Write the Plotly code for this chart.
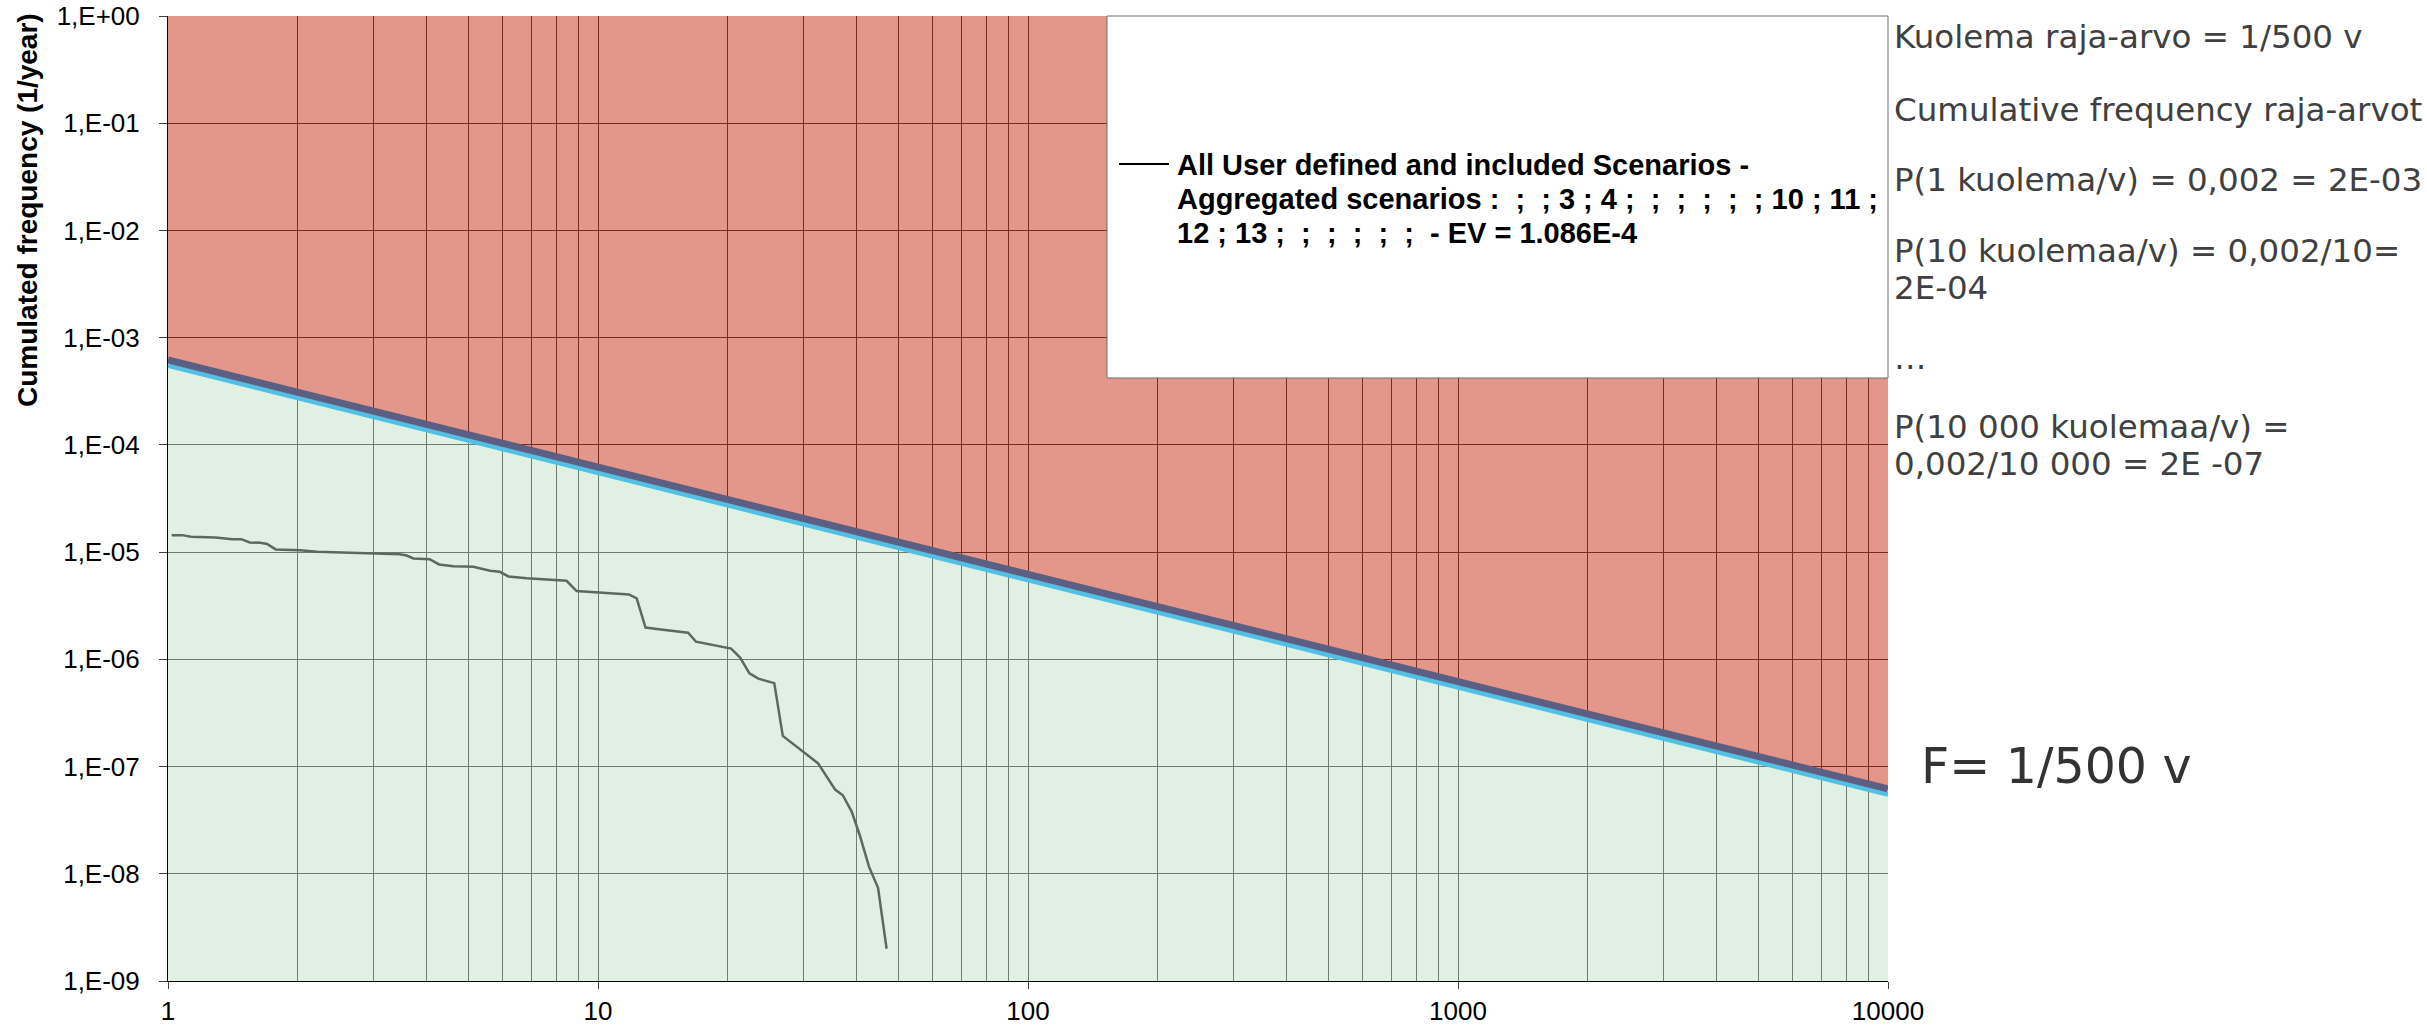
import plotly.graph_objects as go

# ---- data -------------------------------------------------------------
# F-N curve: number of fatalities N vs cumulated frequency of >= N (1/year)
fatalities = [1.02, 1.08, 1.13, 1.29, 1.41, 1.48, 1.55, 1.64, 1.70, 1.78,
              2.03, 2.22, 3.46, 3.59, 3.72, 4.06, 4.27, 4.61, 5.13, 5.61,
              5.91, 6.19, 6.83, 8.45, 8.92, 9.94, 11.8, 12.3, 12.9, 14.0,
              16.2, 16.9, 20.4, 21.4, 22.5, 23.6, 25.7, 26.9, 30.0, 32.5,
              35.6, 37.1, 38.9, 40.6, 42.7, 44.8, 46.9]
cum_frequency = [1.44e-5, 1.44e-5, 1.39e-5, 1.37e-5, 1.32e-5, 1.32e-5, 1.23e-5, 1.22e-5, 1.19e-5, 1.06e-5,
                 1.04e-5, 1.01e-5, 9.55e-6, 9.3e-6, 8.73e-6, 8.6e-6, 7.67e-6, 7.4e-6, 7.3e-6, 6.7e-6,
                 6.55e-6, 5.93e-6, 5.7e-6, 5.4e-6, 4.33e-6, 4.2e-6, 4.03e-6, 3.7e-6, 1.98e-6, 1.9e-6,
                 1.77e-6, 1.46e-6, 1.26e-6, 1.04e-6, 7.4e-7, 6.6e-7, 6.0e-7, 1.93e-7, 1.37e-7, 1.07e-7,
                 6.1e-8, 5.4e-8, 3.8e-8, 2.3e-8, 1.16e-8, 7.4e-9, 2.0e-9]

# criterion line (upper edge of tolerable zone / lower edge of unacceptable zone)
limit_n = [1, 10000]
limit_upper = [6.2e-4, 6.2e-8]
limit_lower = [5.5e-4, 5.5e-8]

# axis extents and labels
x_range = [1, 10000]
y_range = [1e-9, 1.0]
x_ticks = [1, 10, 100, 1000, 10000]
x_tick_text = ["1", "10", "100", "1000", "10000"]
y_ticks = [1e-9, 1e-8, 1e-7, 1e-6, 1e-5, 1e-4, 1e-3, 1e-2, 1e-1, 1.0]
y_tick_text = ["1,E-09", "1,E-08", "1,E-07", "1,E-06", "1,E-05",
               "1,E-04", "1,E-03", "1,E-02", "1,E-01", "1,E+00"]
x_minor = [m * d for d in (1, 10, 100, 1000) for m in range(2, 10)]

legend_lines = [
    "All User defined and included Scenarios -",
    "Aggregated scenarios :  ;  ; 3 ; 4 ;  ;  ;  ;  ;  ; 10 ; 11 ;",
    "12 ; 13 ;  ;  ;  ;  ;  ;  - EV = 1.086E-4",
]
note_lines = [
    "Kuolema raja-arvo = 1/500 v",
    "Cumulative frequency raja-arvot",
    "P(1 kuolema/v) = 0,002 = 2E-03",
    "P(10 kuolemaa/v) = 0,002/10=",
    "2E-04",
    "…",
    "P(10 000 kuolemaa/v) =",
    "0,002/10 000 = 2E -07",
]
criterion_label = "F= 1/500 v"

# ---- layout geometry (pixels) ------------------------------------------
W, H = 2427, 1025
PL, PR, PT, PB = 168, 1888, 16, 981


def fx(p):
    return (p - PL) / (PR - PL)


def fy(p):
    return (PB - p) / (PB - PT)


fig = go.Figure()

# unacceptable zone above the criterion line
fig.add_trace(go.Scatter(
    x=[limit_n[0], limit_n[1], x_range[1], x_range[0]],
    y=[limit_upper[0], limit_upper[1], y_range[1], y_range[1]],
    fill="toself", fillcolor="rgba(205,76,53,0.58)", line=dict(width=0),
    mode="lines", hoverinfo="skip", showlegend=False))

# tolerable zone below the criterion line
fig.add_trace(go.Scatter(
    x=[limit_n[0], limit_n[1], x_range[1], x_range[0]],
    y=[limit_lower[0], limit_lower[1], y_range[0], y_range[0]],
    fill="toself", fillcolor="rgba(199,228,204,0.55)", line=dict(width=0),
    mode="lines", hoverinfo="skip", showlegend=False))

# criterion lines
fig.add_trace(go.Scatter(x=limit_n, y=limit_lower, mode="lines",
                         line=dict(color="#52bfe3", width=5),
                         hoverinfo="skip", showlegend=False))
fig.add_trace(go.Scatter(x=limit_n, y=limit_upper, mode="lines",
                         line=dict(color="#5b5f84", width=7),
                         hoverinfo="skip", showlegend=False))

# F-N curve
fig.add_trace(go.Scatter(x=fatalities, y=cum_frequency, mode="lines",
                         line=dict(color="#5a6a5d", width=2.5),
                         showlegend=False))

shapes = [
    # legend frame
    dict(type="rect", xref="paper", yref="paper",
         x0=fx(1107), x1=fx(1888), y0=fy(378), y1=fy(16),
         fillcolor="white", line=dict(color="#6e6e6e", width=1), layer="above"),
    # legend line sample
    dict(type="line", xref="paper", yref="paper",
         x0=fx(1119), x1=fx(1169), y0=fy(164), y1=fy(164),
         line=dict(color="black", width=2), layer="above"),
]

annotations = []
for i, t in enumerate(legend_lines):
    annotations.append(dict(
        xref="paper", yref="paper", x=fx(1175), y=fy(165 + 34 * i),
        xanchor="left", yanchor="middle", showarrow=False,
        text=t.replace(" ", "\u00a0"),
        font=dict(family="Liberation Sans, Arial", size=29, color="black", weight="bold")))

note_y = [37, 110, 180, 251, 288, 358, 427, 464]
for t, yy in zip(note_lines, note_y):
    annotations.append(dict(
        xref="paper", yref="paper", x=fx(1892), y=fy(yy),
        xanchor="left", yanchor="middle", showarrow=False, text=t,
        font=dict(family="DejaVu Sans", size=32.5, color="#404040")))

annotations.append(dict(
    xref="paper", yref="paper", x=fx(1919), y=fy(766),
    xanchor="left", yanchor="middle", showarrow=False, text=criterion_label,
    font=dict(family="DejaVu Sans", size=49, color="#333333")))

annotations.append(dict(
    xref="paper", yref="paper", x=fx(27), y=fy(210),
    xanchor="center", yanchor="middle", showarrow=False, textangle=-90,
    text="Cumulated frequency (1/year)",
    font=dict(family="Liberation Sans, Arial", size=28, color="black", weight="bold")))

fig.update_layout(
    width=W, height=H,
    margin=dict(l=PL, r=W - PR, t=PT, b=H - PB, autoexpand=False),
    paper_bgcolor="white", plot_bgcolor="white",
    shapes=shapes, annotations=annotations,
    showlegend=False,
)

fig.update_xaxes(
    type="log", range=[0, 4], automargin=False,
    tickvals=x_ticks, ticktext=x_tick_text,
    ticks="outside", ticklen=7, tickcolor="#404040", tickwidth=1,
    tickfont=dict(family="Liberation Sans, Arial", size=26, color="black"),
    showline=True, linecolor="black", linewidth=1,
    showgrid=True, gridcolor="black", gridwidth=1,
    minor=dict(tickvals=x_minor, showgrid=True, gridcolor="black", gridwidth=1, ticks=""),
    zeroline=False,
)
fig.update_yaxes(
    type="log", range=[-9, 0], automargin=False,
    tickvals=y_ticks, ticktext=y_tick_text,
    ticks="outside", ticklen=8, tickcolor="#404040", tickwidth=1,
    ticklabelstandoff=14,
    tickfont=dict(family="Liberation Sans, Arial", size=26, color="black"),
    showline=True, linecolor="black", linewidth=1,
    showgrid=True, gridcolor="black", gridwidth=1,
    zeroline=False,
)

fig.write_html("out.html")
